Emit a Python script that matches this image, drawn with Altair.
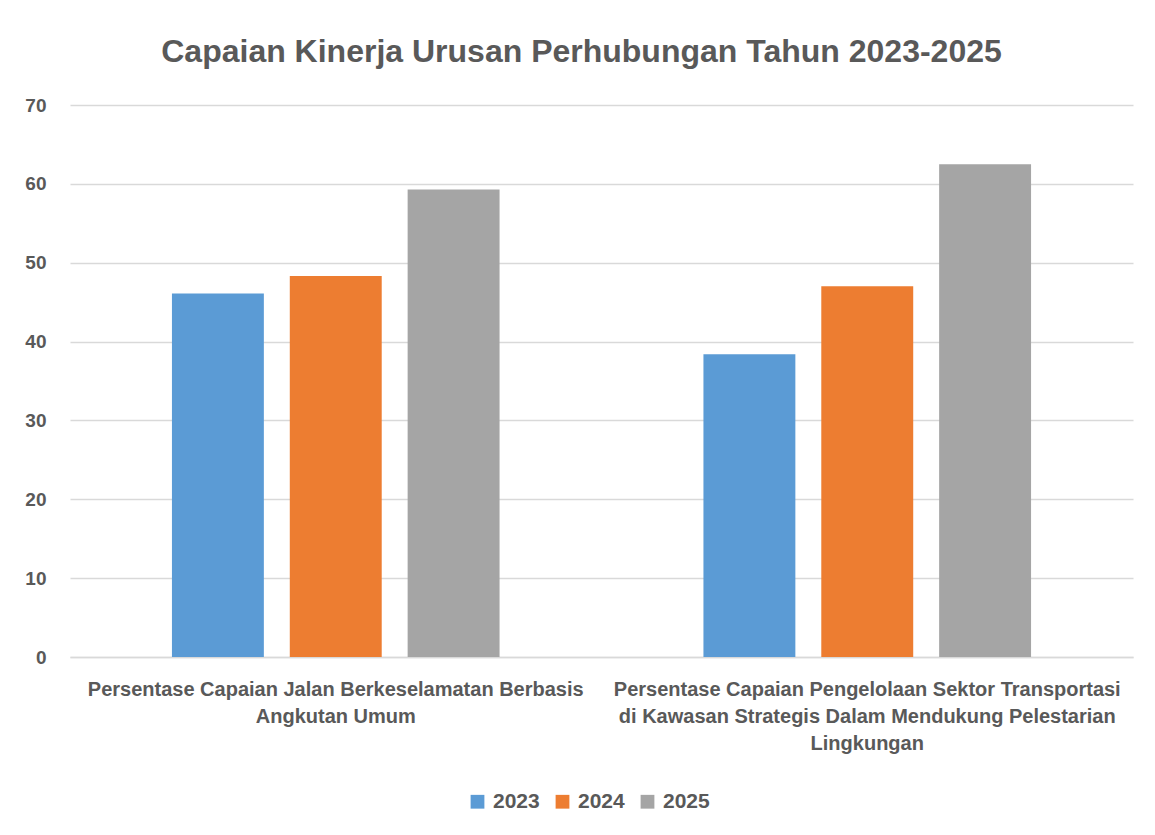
import altair as alt
import pandas as pd

categories = [
    "Persentase Capaian Jalan Berkeselamatan Berbasis Angkutan Umum",
    "Persentase Capaian Pengelolaan Sektor Transportasi di Kawasan Strategis Dalam Mendukung Pelestarian Lingkungan",
]
years = ["2023", "2024", "2025"]
values_2023 = [46.1, 38.4]
values_2024 = [48.3, 47.0]
values_2025 = [59.3, 62.5]
colors = ["#5B9BD5", "#ED7D31", "#A5A5A5"]
label_lines = [
    ["Persentase Capaian Jalan Berkeselamatan Berbasis", "Angkutan Umum"],
    ["Persentase Capaian Pengelolaan Sektor Transportasi",
     "di Kawasan Strategis Dalam Mendukung Pelestarian", "Lingkungan"],
]

rows = []
for yr, vals in zip(years, [values_2023, values_2024, values_2025]):
    for c, v in zip(categories, vals):
        rows.append({"Kategori": c, "Tahun": yr, "Nilai": v})
df = pd.DataFrame(rows)

def arr(lines):
    return "[" + ",".join("'" + l + "'" for l in lines) + "]"

label_expr = (
    f"datum.value == '{categories[0]}' ? {arr(label_lines[0])} : {arr(label_lines[1])}"
)

FONT = "Liberation Sans"
TXT = "#595959"

chart = (
    alt.Chart(df)
    .mark_bar()
    .encode(
        x=alt.X(
            "Kategori:N",
            sort=categories,
            scale=alt.Scale(paddingInner=0, paddingOuter=0),
            axis=alt.Axis(
                title=None,
                grid=False,
                labelAngle=0,
                labelExpr=label_expr,
                labelFont=FONT,
                labelFontSize=20,
                labelFontWeight="bold",
                labelColor=TXT,
                labelPadding=22,
                labelLineHeight=27,
                labelLimit=0,
                ticks=False,
                domainColor="#D9D9D9",
                domainWidth=1.5,
            ),
        ),
        xOffset=alt.XOffset(
            "Tahun:N",
            sort=years,
            scale=alt.Scale(paddingInner=0.22, paddingOuter=0.865),
        ),
        y=alt.Y(
            "Nilai:Q",
            scale=alt.Scale(domain=[0, 70]),
            axis=alt.Axis(
                title=None,
                values=[0, 10, 20, 30, 40, 50, 60, 70],
                labelFont=FONT,
                labelFontSize=19,
                labelFontWeight="bold",
                labelColor=TXT,
                labelPadding=24,
                ticks=False,
                domain=False,
                gridColor="#D9D9D9",
                gridWidth=1.5,
            ),
        ),
        color=alt.Color(
            "Tahun:N",
            sort=years,
            scale=alt.Scale(domain=years, range=colors),
            legend=alt.Legend(
                title=None,
                orient="none",
                direction="horizontal",
                legendX=397,
                legendY=686,
                symbolType="square",
                symbolSize=190,
                symbolStrokeWidth=0,
                labelFont=FONT,
                labelFontSize=21,
                labelFontWeight="bold",
                labelColor=TXT,
                columnPadding=12,
                labelOffset=5,
            ),
        ),
    )
    .properties(
        width=1063,
        height=552,
        title=alt.TitleParams(
            "Capaian Kinerja Urusan Perhubungan Tahun 2023-2025",
            font=FONT,
            fontSize=32,
            fontWeight="bold",
            color=TXT,
            anchor="middle",
            offset=27,
            dx=-20,
        ),
        padding={"left": 62, "top": 97, "right": 14, "bottom": 165},
        autosize=alt.AutoSizeParams(type="none"),
    )
    .configure(background="white")
    .configure_view(stroke=None, strokeWidth=0)
)

chart.save("out.html", embed_options={"renderer": "svg", "actions": False})
